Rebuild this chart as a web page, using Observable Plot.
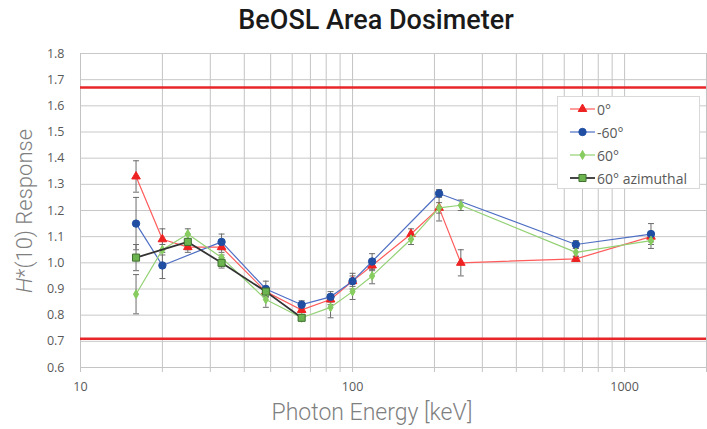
<!DOCTYPE html>
<html>
<head>
<meta charset="utf-8">
<script src="https://cdn.jsdelivr.net/npm/d3@7"></script>
<script src="https://cdn.jsdelivr.net/npm/@observablehq/plot@0.6"></script>
<style>
  html, body { margin: 0; padding: 0; background: #fff; }
  #wrap { position: relative; width: 707px; height: 429px; overflow: hidden; background: #fff; }
  #title { position: absolute; left: 376px; top: 7px; transform: translateX(-50%); white-space: nowrap; line-height: 1;
           font-family: Roboto, sans-serif; font-weight: 500; font-size: 27px; color: #1a1a1a; }
  #xtitle { position: absolute; left: 372px; top: 401px; transform: translateX(-50%); white-space: nowrap; line-height: 1;
            font-family: Roboto, sans-serif; font-weight: 300; font-size: 23px; color: #7f7f7f; }
  #ytitle { position: absolute; left: 24px; top: 211px; transform: translate(-50%, -50%) rotate(-90deg); white-space: nowrap;
            font-family: Roboto, sans-serif; font-weight: 300; font-size: 22px; color: #7f7f7f; }
  #legend { position: absolute; left: 557px; top: 96px; width: 143px; height: 93px; background: #fff;
            border: 1px solid #d9d9d9; box-sizing: border-box; font-family: "Open Sans", sans-serif; font-size: 14px; color: #595959; }
  .li { position: absolute; left: 12px; height: 20px; display: flex; align-items: center; }
  .li svg { margin-right: 2px; }
</style>
</head>
<body>
<div id="wrap">
  <div id="chart"></div>
  <div id="title">BeOSL Area Dosimeter</div>
  <div id="xtitle">Photon Energy [keV]</div>
  <div id="ytitle"><i>H</i>*(10) Response</div>
  <div id="legend"></div>
</div>
<script>
// ---- data ----
const energies = [16, 20, 24.8, 33, 48, 65, 83, 100, 118, 164, 208, 250, 662, 1250];
const seriesNames = ["0°", "-60°", "60°", "60° azimuthal"];
const resp0   = [1.33, 1.09, 1.06, 1.06, 0.89, 0.82, 0.86, 0.93, 0.99, 1.11, 1.21, 1.00, 1.015, 1.10];
const err0    = [0.06, 0.04, 0.02, 0.02, 0.02, 0.01, 0.02, 0.02, 0.02, 0.02, 0.02, 0.05, 0.01, 0.02];
const respM60 = [1.15, 0.99, null, 1.08, 0.90, 0.84, 0.87, 0.93, 1.005, null, 1.265, null, 1.07, 1.11];
const errM60  = [0.10, 0.05, null, 0.03, 0.03, 0.015, 0.02, 0.03, 0.03, null, 0.015, null, 0.015, 0.04];
const resp60  = [0.88, 1.05, 1.11, 1.02, 0.86, 0.79, 0.83, 0.89, 0.95, 1.09, 1.21, 1.22, 1.04, 1.085];
const err60   = [0.075, 0.02, 0.02, 0.01, 0.03, 0.01, 0.04, 0.03, 0.03, 0.02, 0.05, 0.02, 0.015, 0.03];
const respAz  = [1.02, null, 1.08, 1.00, 0.89, 0.79, null, null, null, null, null, null, null, null];
const errAz   = [0.05, null, 0.03, 0.02, 0.02, 0.01, null, null, null, null, null, null, null, null];
const limits = [0.71, 1.67];
const xGrid = [10,20,30,40,50,60,70,80,90,100,200,300,400,500,600,700,800,900,1000,2000];
const xLabels = [10, 100, 1000];
const yTicks = [0.6,0.7,0.8,0.9,1.0,1.1,1.2,1.3,1.4,1.5,1.6,1.7,1.8];

// ---- styles per series ----
const styles = [
  {line: "#ff5b5b", fill: "#ee2222", stroke: "#ee2222", symbol: "triangle", r: 3.2, lw: 1.2},
  {line: "#4f6fc4", fill: "#1f4ea3", stroke: "#1f4ea3", symbol: "circle", r: 3.7, lw: 1.2},
  {line: "#93d174", fill: "#86cc5f", stroke: "#86cc5f", symbol: "diamond", r: 2.7, lw: 1.2},
  {line: "#333333", fill: "#6cb450", stroke: "#3f6f30", symbol: "square", r: 4.0, lw: 1.8}
];
const resps = [resp0, respM60, resp60, respAz];
const errs = [err0, errM60, err60, errAz];

const series = resps.map((arr, s) =>
  energies.map((e, i) => ({x: e, y: arr[i], err: errs[s][i], s}))
          .filter(d => d.y != null));

const cap = { draw(ctx, size) { const w = Math.sqrt(size / Math.PI); ctx.moveTo(-w, 0); ctx.lineTo(w, 0); } };

const marks = [
  Plot.gridX(xGrid, {stroke: "#c4c4c4", strokeOpacity: 1}),
  Plot.gridY(yTicks, {stroke: "#c8c8c8", strokeOpacity: 1}),
  Plot.axisX(xGrid, {tickSize: 5, tickFormat: () => "", stroke: "#c4c4c4", label: null}),
  Plot.axisX(xLabels, {tickSize: 0, tickPadding: 15, tickFormat: d => String(d), label: null, fill: "#595959"}),
  Plot.axisY(yTicks, {tickSize: 0, tickPadding: 16, tickFormat: d3.format(".1f"), label: null, fill: "#595959"}),
  Plot.ruleX([10], {stroke: "#c4c4c4"}),
  Plot.ruleY([0.6], {stroke: "#c4c4c4"}),
  Plot.ruleY(limits, {stroke: "#e8262a", strokeWidth: 2.4})
];

series.forEach((data, s) => {
  marks.push(Plot.ruleX(data, {x: "x", y1: d => d.y - d.err, y2: d => d.y + d.err, stroke: "#6b6b6b", strokeWidth: 1}));
  marks.push(Plot.dot(data, {x: "x", y: d => d.y + d.err, symbol: cap, r: 3, stroke: "#6b6b6b", strokeWidth: 1}));
  marks.push(Plot.dot(data, {x: "x", y: d => d.y - d.err, symbol: cap, r: 3, stroke: "#6b6b6b", strokeWidth: 1}));
});
series.forEach((data, s) => {
  const st = styles[s];
  marks.push(Plot.line(data, {x: "x", y: "y", stroke: st.line, strokeWidth: st.lw}));
  marks.push(Plot.dot(data, {x: "x", y: "y", symbol: st.symbol, r: st.r, fill: st.fill, stroke: st.stroke, strokeWidth: 1}));
});

const chart = Plot.plot({
  width: 707, height: 429,
  marginTop: 53, marginBottom: 62, marginLeft: 80, marginRight: 1,
  x: {type: "log", domain: [10, 2000]},
  y: {domain: [0.6, 1.8]},
  style: {fontFamily: "'Open Sans', sans-serif", fontSize: "12.5px", color: "#595959", background: "white", overflow: "visible"},
  marks
});
document.getElementById("chart").appendChild(chart);

// ---- legend ----
const legend = document.getElementById("legend");
const dPlot = {triangle: d3.symbolTriangle, circle: d3.symbolCircle, diamond: d3.symbolDiamond, square: d3.symbolSquare};
seriesNames.forEach((name, s) => {
  const st = styles[s];
  const div = document.createElement("div");
  div.className = "li";
  div.style.top = (2 + s * 23) + "px";
  const path = d3.symbol(dPlot[st.symbol], Math.PI * st.r * st.r)();
  div.innerHTML = `<svg width="25" height="12" viewBox="0 0 25 12">
    <line x1="0" x2="25" y1="6" y2="6" stroke="${st.line}" stroke-width="${st.lw}"/>
    <path transform="translate(12.5,6)" d="${path}" fill="${st.fill}" stroke="${st.stroke}" stroke-width="1"/>
  </svg><span>${name}</span>`;
  legend.appendChild(div);
});
</script>
</body>
</html>
